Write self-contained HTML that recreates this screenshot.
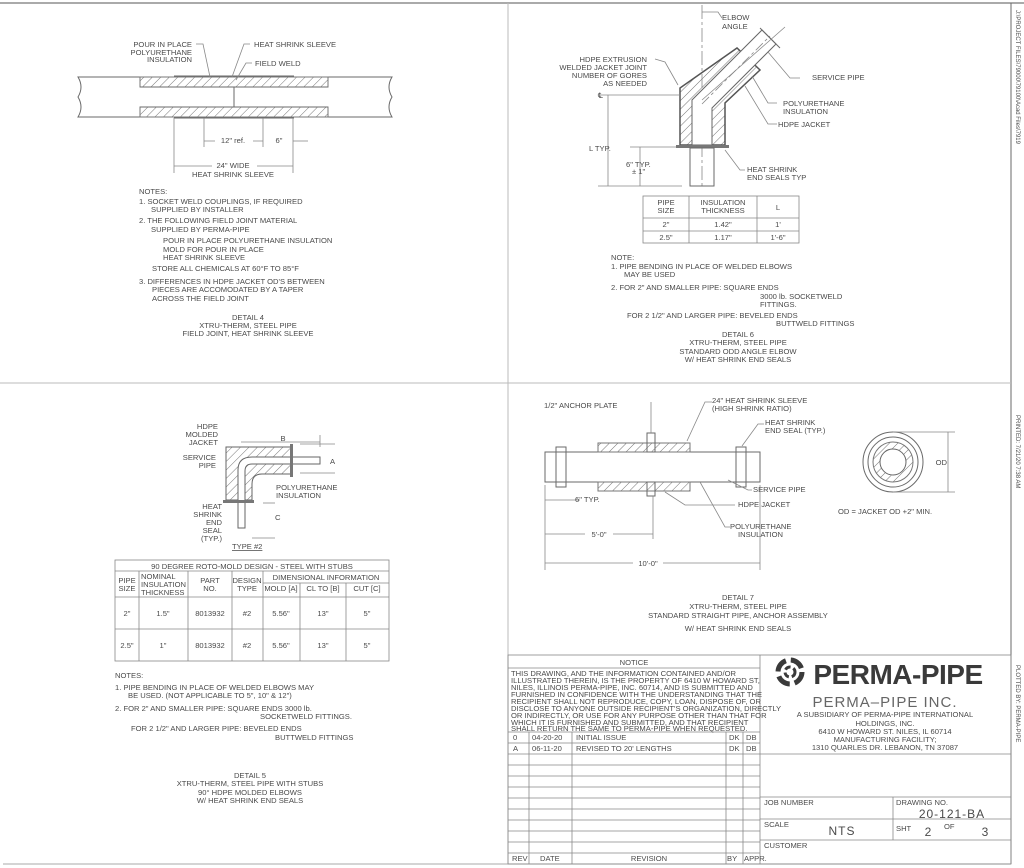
<!DOCTYPE html>
<html><head><meta charset="utf-8"><style>
html,body{margin:0;padding:0;background:#fff}
svg{display:block}
text{font-family:"Liberation Sans",sans-serif;fill:#4a4a4a;font-size:7.6px}
.s{stroke:#6a6a6a;fill:none;stroke-width:1}
.t{stroke:#888;fill:none;stroke-width:.8}
.m{text-anchor:middle}
.e{text-anchor:end}
</style></head><body>
<svg width="1024" height="868" viewBox="0 0 1024 868" xmlns="http://www.w3.org/2000/svg">
<defs>
<pattern id="h" width="6" height="6" patternUnits="userSpaceOnUse" patternTransform="rotate(45)"><line x1="0" y1="0" x2="0" y2="6" stroke="#777" stroke-width="1"/></pattern>
</defs>
<!-- frame -->
<line x1="0" y1="3" x2="1024" y2="3" stroke="#aaa" stroke-width="2"/>
<line x1="1011" y1="3" x2="1011" y2="864" class="s"/>
<line x1="3" y1="864" x2="1011" y2="864" stroke="#aaa"/>
<line x1="0" y1="383" x2="1011" y2="383" stroke="#bbb"/>
<line x1="508" y1="3" x2="508" y2="864" stroke="#bbb"/>
<text transform="translate(1016,10) rotate(90)" style="font-size:6px">J:\PROJECT FILES\79000\79100\Acad Files\7919</text>
<text transform="translate(1016,415) rotate(90)" style="font-size:6px">PRINTED: 7/21/20 7:38 AM</text>
<text transform="translate(1016,665) rotate(90)" style="font-size:6px">PLOTTED BY: PERMA-PIPE</text>

<!-- DETAIL 4 -->
<path class="s" d="M78 77 L392 77 Q386 87 392 97 Q386 107 392 117 L78 117 Q84 107 78 97 Q84 87 78 77Z"/>
<rect x="140" y="77" width="188" height="10" fill="url(#h)" stroke="#777"/>
<rect x="140" y="107" width="188" height="10" fill="url(#h)" stroke="#777"/>
<line class="s" x1="140" y1="87" x2="328" y2="87"/><line class="s" x1="140" y1="107" x2="328" y2="107"/>
<line class="s" x1="234" y1="87" x2="234" y2="107"/>
<line class="s" x1="174" y1="76" x2="294" y2="76" stroke-width="2"/>
<line class="s" x1="174" y1="118" x2="294" y2="118" stroke-width="2"/>
<polyline class="t" points="196,44 203,44 210,77"/>
<polyline class="t" points="250,44 244,44 232,77"/>
<polyline class="t" points="252,63 246,63 236,80"/>
<text x="192" y="47" class="e">POUR IN PLACE</text><text x="192" y="55" class="e">POLYURETHANE</text><text x="192" y="62" class="e">INSULATION</text>
<text x="254" y="47">HEAT SHRINK SLEEVE</text><text x="255" y="66">FIELD WELD</text>
<line class="t" x1="174" y1="118" x2="174" y2="173"/><line class="t" x1="293" y1="118" x2="293" y2="173"/>
<line class="t" x1="204" y1="118" x2="204" y2="147"/><line class="t" x1="263" y1="118" x2="263" y2="147"/>
<line class="t" x1="204" y1="141" x2="263" y2="141"/><line class="t" x1="293" y1="141" x2="308" y2="141"/>
<line class="t" x1="174" y1="166" x2="293" y2="166"/>
<rect x="215" y="136" width="38" height="9" fill="#fff"/><text x="233" y="143" class="m">12" ref.</text>
<rect x="270" y="136" width="18" height="9" fill="#fff"/><text x="279" y="143" class="m">6"</text>
<rect x="212" y="161" width="45" height="9" fill="#fff"/><text x="233" y="168" class="m">24" WIDE</text>
<text x="233" y="177" class="m">HEAT SHRINK SLEEVE</text>
<text x="139" y="194">NOTES:</text>
<text x="139" y="204">1.  SOCKET WELD COUPLINGS, IF REQUIRED</text><text x="151" y="212">SUPPLIED BY INSTALLER</text>
<text x="139" y="223">2.  THE FOLLOWING FIELD JOINT MATERIAL</text><text x="151" y="232">SUPPLIED BY PERMA-PIPE</text>
<text x="163" y="243">POUR IN PLACE POLYURETHANE INSULATION</text><text x="163" y="252">MOLD FOR POUR IN PLACE</text><text x="163" y="260">HEAT SHRINK SLEEVE</text>
<text x="152" y="271">STORE ALL CHEMICALS AT 60°F TO 85°F</text>
<text x="139" y="284">3.  DIFFERENCES IN HDPE JACKET OD'S BETWEEN</text><text x="152" y="292">PIECES ARE ACCOMODATED BY A TAPER</text><text x="152" y="301">ACROSS THE FIELD JOINT</text>
<text x="248" y="320" class="m">DETAIL 4</text><text x="248" y="328" class="m">XTRU-THERM, STEEL PIPE</text><text x="248" y="336" class="m">FIELD JOINT, HEAT SHRINK SLEEVE</text>

<!-- DETAIL 6 -->
<line class="t" x1="702" y1="5" x2="702" y2="186" stroke-dasharray="14,3,3,3"/>
<polyline class="t" points="702,12 718,12 722,18"/>
<text x="722" y="20">ELBOW</text><text x="722" y="29">ANGLE</text>
<path d="M680 145 L680 88 L737 48 L760 70 L725 103 L725 145Z" fill="url(#h)" stroke="#555" stroke-width="1.5"/>
<path d="M692 145 L692 100 L762 30 L776 44 L712 108 L712 145Z" fill="#fff" stroke="#666"/>
<line class="t" x1="702" y1="104" x2="770" y2="36" stroke-dasharray="10,3,3,3"/>
<line class="s" x1="760" y1="28" x2="780" y2="48"/>
<line class="t" x1="702" y1="100" x2="785" y2="27"/>
<rect x="676" y="145" width="53" height="3" fill="#777"/>
<rect x="690" y="148" width="24" height="38" class="s"/>
<polyline class="t" points="655,59 665,62 678,85"/>
<text x="647" y="62" class="e">HDPE EXTRUSION</text><text x="647" y="70" class="e">WELDED JACKET JOINT</text><text x="647" y="78" class="e">NUMBER OF GORES</text><text x="647" y="86" class="e">AS NEEDED</text>
<text x="598" y="98">℄</text>
<polyline class="t" points="768,52 790,78 800,78"/><text x="812" y="80">SERVICE PIPE</text>
<polyline class="t" points="752,76 768,103 777,103"/><text x="783" y="106">POLYURETHANE</text><text x="783" y="114">INSULATION</text>
<polyline class="t" points="745,86 768,124 777,124"/><text x="778" y="127">HDPE JACKET</text>
<polyline class="t" points="725,150 740,170 745,170"/><text x="747" y="172">HEAT SHRINK</text><text x="747" y="180">END SEALS TYP</text>
<line class="t" x1="600" y1="95" x2="680" y2="95"/><line class="t" x1="608" y1="95" x2="608" y2="186"/>
<line class="t" x1="598" y1="186" x2="682" y2="186"/><line class="t" x1="630" y1="147" x2="676" y2="147"/><line class="t" x1="640" y1="147" x2="640" y2="186"/>
<text x="589" y="151">L TYP.</text><text x="626" y="167">6" TYP.</text><text x="632" y="174">± 1"</text>
<g class="t"><rect x="643" y="196" width="156" height="47"/><line x1="643" y1="218" x2="799" y2="218"/><line x1="643" y1="231" x2="799" y2="231"/><line x1="689" y1="196" x2="689" y2="243"/><line x1="757" y1="196" x2="757" y2="243"/></g>
<text x="666" y="205" class="m">PIPE</text><text x="666" y="213" class="m">SIZE</text>
<text x="723" y="205" class="m">INSULATION</text><text x="723" y="213" class="m">THICKNESS</text><text x="778" y="210" class="m">L</text>
<text x="666" y="227" class="m">2"</text><text x="723" y="227" class="m">1.42"</text><text x="778" y="227" class="m">1'</text>
<text x="666" y="240" class="m">2.5"</text><text x="723" y="240" class="m">1.17"</text><text x="778" y="240" class="m">1'-6"</text>
<text x="611" y="260">NOTE:</text>
<text x="611" y="269">1.  PIPE BENDING IN PLACE OF WELDED ELBOWS</text><text x="624" y="277">MAY BE USED</text>
<text x="611" y="290">2.   FOR 2" AND SMALLER PIPE:   SQUARE ENDS</text>
<text x="760" y="299">3000 lb. SOCKETWELD</text><text x="760" y="307">FITTINGS.</text>
<text x="627" y="318">FOR 2 1/2" AND LARGER PIPE:   BEVELED ENDS</text><text x="776" y="326">BUTTWELD FITTINGS</text>
<text x="738" y="337" class="m">DETAIL 6</text><text x="738" y="345" class="m">XTRU-THERM, STEEL PIPE</text><text x="738" y="354" class="m">STANDARD ODD ANGLE ELBOW</text><text x="738" y="362" class="m">W/ HEAT SHRINK END SEALS</text>

<!-- DETAIL 5 -->
<path d="M226 447 L292 447 L292 474 L262 474 Q252 474 252 484 L252 500 L226 500Z" fill="url(#h)" stroke="#666"/>
<path d="M238 500 L238 470 Q238 457 252 457 L320 457 L320 464 L252 464 Q245 464 245 471 L245 528 L238 528Z" fill="#fff" stroke="#666"/>
<rect x="223" y="500" width="31" height="3" fill="#777"/><rect x="290" y="444" width="3" height="33" fill="#777"/>
<text x="218" y="429" class="e">HDPE</text><text x="218" y="437" class="e">MOLDED</text><text x="218" y="445" class="e">JACKET</text>
<text x="216" y="460" class="e">SERVICE</text><text x="216" y="468" class="e">PIPE</text>
<text x="222" y="509" class="e">HEAT</text><text x="222" y="517" class="e">SHRINK</text><text x="222" y="525" class="e">END</text><text x="222" y="533" class="e">SEAL</text><text x="222" y="541" class="e">(TYP.)</text>
<line class="t" x1="241" y1="442" x2="320" y2="442"/><text x="283" y="441" class="m">B</text>
<line class="t" x1="320" y1="435" x2="320" y2="447"/>
<text x="330" y="464">A</text><line class="t" x1="300" y1="444" x2="335" y2="444"/><line class="t" x1="300" y1="473" x2="335" y2="473"/>
<text x="276" y="490">POLYURETHANE</text><text x="276" y="498">INSULATION</text>
<text x="275" y="520">C</text><line class="t" x1="263" y1="503" x2="275" y2="503"/><line class="t" x1="252" y1="538" x2="275" y2="538"/>
<text x="232" y="549" style="text-decoration:underline">TYPE  #2</text>
<g class="t"><rect x="115" y="560" width="274" height="101"/>
<line x1="115" y1="571" x2="389" y2="571"/><line x1="263" y1="583" x2="389" y2="583"/><line x1="115" y1="597" x2="389" y2="597"/><line x1="115" y1="629" x2="389" y2="629"/>
<line x1="139" y1="571" x2="139" y2="661"/><line x1="188" y1="571" x2="188" y2="661"/><line x1="232" y1="571" x2="232" y2="661"/><line x1="263" y1="571" x2="263" y2="661"/><line x1="300" y1="583" x2="300" y2="661"/><line x1="346" y1="583" x2="346" y2="661"/></g>
<text x="252" y="569" class="m">90 DEGREE ROTO-MOLD DESIGN  -  STEEL WITH STUBS</text>
<text x="127" y="583" class="m">PIPE</text><text x="127" y="591" class="m">SIZE</text>
<text x="141" y="579">NOMINAL</text><text x="141" y="587">INSULATION</text><text x="141" y="595">THICKNESS</text>
<text x="210" y="583" class="m">PART</text><text x="210" y="591" class="m">NO.</text>
<text x="247" y="583" class="m">DESIGN</text><text x="247" y="591" class="m">TYPE</text>
<text x="326" y="580" class="m">DIMENSIONAL INFORMATION</text>
<text x="281" y="591" class="m">MOLD [A]</text><text x="323" y="591" class="m">CL TO [B]</text><text x="367" y="591" class="m">CUT [C]</text>
<text x="127" y="616" class="m">2"</text><text x="163" y="616" class="m">1.5"</text><text x="210" y="616" class="m">8013932</text><text x="247" y="616" class="m">#2</text><text x="281" y="616" class="m">5.56"</text><text x="323" y="616" class="m">13"</text><text x="367" y="616" class="m">5"</text>
<text x="127" y="648" class="m">2.5"</text><text x="163" y="648" class="m">1"</text><text x="210" y="648" class="m">8013932</text><text x="247" y="648" class="m">#2</text><text x="281" y="648" class="m">5.56"</text><text x="323" y="648" class="m">13"</text><text x="367" y="648" class="m">5"</text>
<text x="115" y="678">NOTES:</text>
<text x="115" y="690">1.  PIPE BENDING IN PLACE OF WELDED ELBOWS MAY</text><text x="128" y="698">BE USED. (NOT APPLICABLE TO 5", 10" &amp; 12")</text>
<text x="115" y="711">2.   FOR 2" AND SMALLER PIPE:    SQUARE ENDS 3000 lb.</text><text x="260" y="719">SOCKETWELD  FITTINGS.</text>
<text x="131" y="731">FOR 2 1/2" AND LARGER PIPE:   BEVELED ENDS</text><text x="275" y="740">BUTTWELD FITTINGS</text>
<text x="250" y="778" class="m">DETAIL 5</text><text x="250" y="786" class="m">XTRU-THERM, STEEL PIPE WITH STUBS</text><text x="250" y="795" class="m">90° HDPE MOLDED ELBOWS</text><text x="250" y="803" class="m">W/ HEAT SHRINK END SEALS</text>

<!-- DETAIL 7 -->
<rect x="545" y="452" width="215" height="30" class="s"/>
<rect x="556" y="447" width="10" height="40" class="s" stroke-width="2"/><rect x="736" y="447" width="10" height="40" class="s" stroke-width="2"/>
<rect x="598" y="443" width="92" height="9" fill="url(#h)" stroke="#777"/><rect x="598" y="482" width="92" height="9" fill="url(#h)" stroke="#777"/>
<rect x="647" y="433" width="8" height="19" class="s"/><rect x="647" y="482" width="8" height="14" class="s"/>
<line class="t" x1="651" y1="402" x2="651" y2="433"/><text x="544" y="408">1/2" ANCHOR PLATE</text>
<polyline class="t" points="687,441 705,402 712,402"/><text x="712" y="403">24" HEAT SHRINK SLEEVE</text><text x="712" y="411">(HIGH SHRINK RATIO)</text>
<polyline class="t" points="742,446 758,424 764,424"/><text x="765" y="425">HEAT SHRINK</text><text x="765" y="433">END SEAL (TYP.)</text>
<polyline class="t" points="728,480 748,490 752,490"/><text x="753" y="492">SERVICE PIPE</text>
<polyline class="t" points="665,492 685,505 735,505"/><text x="738" y="507">HDPE JACKET</text>
<polyline class="t" points="700,482 725,527 730,527"/><text x="730" y="529">POLYURETHANE</text><text x="738" y="537">INSULATION</text>
<line class="t" x1="545" y1="485" x2="545" y2="570"/><line class="t" x1="653" y1="496" x2="653" y2="539"/><line class="t" x1="760" y1="485" x2="760" y2="570"/>
<line class="t" x1="545" y1="500" x2="580" y2="500"/><text x="575" y="502">6" TYP.</text>
<line class="t" x1="545" y1="534" x2="653" y2="534"/><rect x="585" y="529" width="28" height="9" fill="#fff"/><text x="599" y="537" class="m">5'-0"</text>
<line class="t" x1="545" y1="563" x2="760" y2="563"/><rect x="633" y="558" width="30" height="9" fill="#fff"/><text x="648" y="566" class="m">10'-0"</text>
<circle cx="893" cy="462" r="30" class="s"/><circle cx="893" cy="462" r="25" class="s"/><circle cx="893" cy="462" r="20" fill="url(#h)" stroke="#777"/><circle cx="893" cy="462" r="13" fill="#fff" stroke="#666"/>
<line class="t" x1="893" y1="432" x2="955" y2="432"/><line class="t" x1="893" y1="492" x2="955" y2="492"/><line class="t" x1="948" y1="432" x2="948" y2="492"/>
<text x="947" y="465" class="e">OD</text>
<text x="838" y="514">OD = JACKET OD +2" MIN.</text>
<text x="738" y="600" class="m">DETAIL 7</text><text x="738" y="609" class="m">XTRU-THERM, STEEL PIPE</text><text x="738" y="618" class="m">STANDARD STRAIGHT PIPE, ANCHOR ASSEMBLY</text><text x="738" y="631" class="m">W/ HEAT SHRINK END SEALS</text>

<!-- TITLE BLOCK -->
<g class="t">
<rect x="508" y="655" width="503" height="209"/>
<line x1="760" y1="655" x2="760" y2="864"/>
<line x1="508" y1="668" x2="760" y2="668"/>
<line x1="508" y1="732" x2="760" y2="732"/>
<line x1="508" y1="743" x2="760" y2="743"/><line x1="508" y1="754" x2="760" y2="754"/><line x1="508" y1="765" x2="760" y2="765"/><line x1="508" y1="776" x2="760" y2="776"/><line x1="508" y1="787" x2="760" y2="787"/><line x1="508" y1="798" x2="760" y2="798"/><line x1="508" y1="809" x2="760" y2="809"/><line x1="508" y1="820" x2="760" y2="820"/><line x1="508" y1="831" x2="760" y2="831"/><line x1="508" y1="842" x2="760" y2="842"/><line x1="508" y1="853" x2="760" y2="853"/>
<line x1="529" y1="732" x2="529" y2="864"/><line x1="572" y1="732" x2="572" y2="864"/><line x1="726" y1="732" x2="726" y2="864"/><line x1="743" y1="732" x2="743" y2="864"/>
<line x1="760" y1="754" x2="1011" y2="754"/><line x1="760" y1="797" x2="1011" y2="797"/><line x1="760" y1="819" x2="1011" y2="819"/><line x1="760" y1="840" x2="1011" y2="840"/>
<line x1="893" y1="797" x2="893" y2="840"/>
</g>
<text x="634" y="665" class="m">NOTICE</text>
<g style="font-size:6.3px">
<text x="511" y="676">THIS DRAWING, AND THE INFORMATION CONTAINED AND/OR</text>
<text x="511" y="683">ILLUSTRATED THEREIN, IS THE PROPERTY OF 6410 W HOWARD ST,</text>
<text x="511" y="690">NILES, ILLINOIS  PERMA-PIPE, INC. 60714, AND IS SUBMITTED AND</text>
<text x="511" y="697">FURNISHED IN CONFIDENCE WITH THE UNDERSTANDING THAT THE</text>
<text x="511" y="704">RECIPIENT SHALL NOT REPRODUCE, COPY, LOAN, DISPOSE OF, OR</text>
<text x="511" y="711">DISCLOSE TO ANYONE OUTSIDE RECIPIENT'S ORGANIZATION, DIRECTLY</text>
<text x="511" y="718">OR INDIRECTLY, OR USE FOR ANY PURPOSE OTHER THAN THAT FOR</text>
<text x="511" y="725">WHICH IT IS FURNISHED AND SUBMITTED, AND THAT RECIPIENT</text>
<text x="511" y="731">SHALL RETURN THE SAME TO PERMA-PIPE WHEN REQUESTED.</text>
<text x="513" y="740">0</text><text x="532" y="740">04-20-20</text><text x="576" y="740">INITIAL ISSUE</text><text x="729" y="740">DK</text><text x="746" y="740">DB</text>
<text x="513" y="751">A</text><text x="532" y="751">06-11-20</text><text x="576" y="751">REVISED TO 20' LENGTHS</text><text x="729" y="751">DK</text><text x="746" y="751">DB</text>
<text x="512" y="861">REV</text><text x="540" y="861">DATE</text><text x="649" y="861" class="m">REVISION</text><text x="727" y="861">BY</text><text x="744" y="861">APPR.</text>
<text x="764" y="805">JOB NUMBER</text><text x="896" y="805">DRAWING NO.</text>
<text x="764" y="827">SCALE</text><text x="896" y="831">SHT</text><text x="944" y="829">OF</text>
<text x="764" y="848">CUSTOMER</text>
</g>
<text x="952" y="818" class="m" style="font-size:12px;letter-spacing:1px">20-121-BA</text>
<text x="842" y="835" class="m" style="font-size:12px;letter-spacing:1px">NTS</text>
<text x="928" y="836" class="m" style="font-size:12px">2</text><text x="985" y="836" class="m" style="font-size:12px">3</text>
<!-- logo -->
<g transform="translate(790,672)">
<circle r="12" fill="none" stroke="#3a3a3a" stroke-width="5" stroke-dasharray="14,5"/>
<circle r="5" fill="none" stroke="#3a3a3a" stroke-width="3" stroke-dasharray="6,3"/>
</g>
<text x="898" y="684" class="m" style="font-size:28px;font-weight:bold;fill:#3a3a3a;letter-spacing:-0.5px">PERMA-PIPE</text>
<text x="885" y="707" class="m" style="font-size:15px;fill:#666;letter-spacing:1px">PERMA–PIPE INC.</text>
<text x="885" y="717" class="m">A SUBSIDIARY OF PERMA-PIPE INTERNATIONAL</text>
<text x="885" y="726" class="m">HOLDINGS, INC.</text>
<text x="885" y="734" class="m">6410 W HOWARD ST. NILES, IL 60714</text>
<text x="885" y="742" class="m">MANUFACTURING FACILITY;</text>
<text x="885" y="750" class="m">1310 QUARLES DR. LEBANON, TN 37087</text>
</svg>
</body></html>
